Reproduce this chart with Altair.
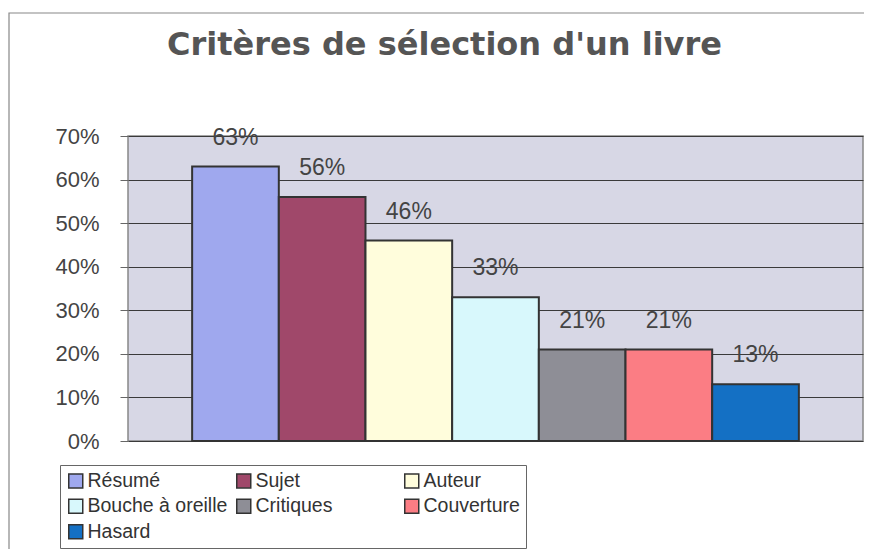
import altair as alt
import pandas as pd

categories = ["Résumé", "Sujet", "Auteur", "Bouche à oreille", "Critiques", "Couverture", "Hasard"]
values = [0.63, 0.56, 0.46, 0.33, 0.21, 0.21, 0.13]
colors = ["#9fa8ee", "#a0486a", "#fffddc", "#d8f8fc", "#8e8e96", "#fb7d84", "#1470c4"]
y_ticks = [0.0, 0.1, 0.2, 0.3, 0.4, 0.5, 0.6, 0.7]

df = pd.DataFrame({"critere": categories, "part": values})

FONT = "Liberation Sans"

xenc = alt.X("critere:N", sort=categories,
             scale=alt.Scale(paddingInner=0, paddingOuter=0.74), axis=None)
yenc = alt.Y("part:Q", scale=alt.Scale(domain=[0, 0.7], nice=False),
             axis=alt.Axis(values=y_ticks, format=".0%", title=None, domain=False,
                           ticks=True, tickSize=8, tickColor="#666", tickWidth=1,
                           grid=True, gridColor="#3a3a3a", gridWidth=1,
                           labelFont=FONT, labelFontSize=22, labelColor="#444",
                           labelPadding=21))

bars = alt.Chart(df).mark_bar(stroke="#333", strokeWidth=2).encode(
    x=xenc,
    y=yenc,
    color=alt.Color("critere:N", sort=categories,
                    scale=alt.Scale(domain=categories, range=colors),
                    legend=alt.Legend(title=None, orient="none", legendX=-68, legendY=329,
                                      direction="horizontal",
                                      columns=3, gridAlign="all", symbolType="square",
                                      symbolSize=196, symbolStrokeColor="#333",
                                      symbolStrokeWidth=1.5, symbolOpacity=1,
                                      labelFont=FONT, labelFontSize=19.5, labelColor="#333",
                                      labelOffset=2, columnPadding=5, rowPadding=4.5,
                                      padding=6, strokeColor="#666", fillColor="white",
                                      labelLimit=300)),
)

labels = alt.Chart(df).mark_text(baseline="bottom", dy=-17, font=FONT, fontSize=23,
                                 color="#444").encode(
    x=xenc,
    y=alt.Y("part:Q"),
    text=alt.Text("part:Q", format=".0%"),
)

frame = alt.Chart(pd.DataFrame({"a": [0]})).mark_rect(fill=None, stroke="#888", strokeWidth=1.2).encode(
    x=alt.value(-119), x2=alt.value(760), y=alt.value(-123), y2=alt.value(500)
)

chart = alt.layer(frame, bars, labels).properties(
    width=735, height=305,
    autosize=alt.AutoSizeParams(type="none"),
    padding={"left": 120, "top": 128, "right": 1, "bottom": 108},
    title=alt.Title("Critères de sélection d'un livre", font="DejaVu Sans", fontSize=32,
                    fontWeight="bold", color="#555", anchor="middle", frame="group",
                    baseline="bottom", offset=-82, dx=-51),
).configure_view(fill="#d7d7e5", stroke="#888", strokeWidth=1.5)

chart.save("out.html", embed_options={"renderer": "svg", "actions": False})
